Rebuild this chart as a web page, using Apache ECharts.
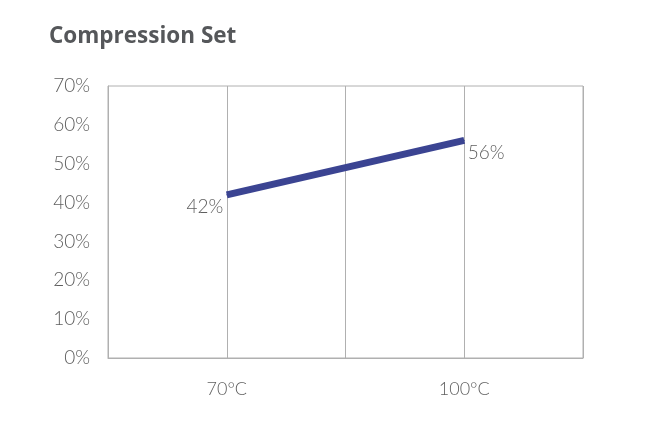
<!DOCTYPE html>
<html>
<head>
<meta charset="utf-8">
<script src="https://cdn.jsdelivr.net/npm/echarts@6/dist/echarts.min.js"></script>
<style>
  html, body { margin: 0; padding: 0; background: #fff; }
  #chart { width: 650px; height: 427px; }
</style>
</head>
<body>
<div id="chart"></div>
<script>
// x positions: empty slots keep the grid lines at the right places
var categories = ["", "70°C", "", "100°C", ""];
var compressionSet = [null, 42, null, 56, null];
var labelSide = [null, "left", null, "right", null];

var chart = echarts.init(document.getElementById("chart"));

var points = [];
for (var i = 0; i < compressionSet.length; i++) {
  if (compressionSet[i] == null) {
    points.push(null);
    continue;
  }
  points.push({
    value: compressionSet[i],
    label: { position: labelSide[i], offset: [0, 12], distance: 3 }
  });
}

var textFont = "Lato";

var option = {
  title: {
    text: "Compression Set",
    left: 44,
    top: 20,
    textStyle: {
      fontFamily: "Open Sans",
      fontWeight: "bold",
      fontSize: 22.5,
      color: "#55575a"
    }
  },
  grid: {
    show: true,
    left: 108,
    right: 67,
    top: 86,
    bottom: 69,
    borderColor: "#b0b0b0",
    borderWidth: 1
  },
  xAxis: {
    type: "category",
    data: categories,
    boundaryGap: false,
    axisLine: { lineStyle: { color: "#b0b0b0" } },
    axisTick: { show: false },
    splitLine: { show: true, lineStyle: { color: "#b0b0b0", width: 1 } },
    axisLabel: {
      margin: 22,
      fontFamily: textFont,
      fontWeight: 300,
      fontSize: 18,
      color: "#5f5f5f"
    }
  },
  yAxis: {
    type: "value",
    min: 0,
    max: 70,
    interval: 10,
    axisLine: { show: true, lineStyle: { color: "#b0b0b0" } },
    axisTick: { show: false },
    splitLine: { show: false },
    axisLabel: {
      margin: 18,
      fontFamily: textFont,
      fontWeight: 300,
      fontSize: 19,
      color: "#5f5f5f",
      formatter: "{value}%"
    }
  },
  series: [
    {
      type: "line",
      data: points,
      connectNulls: true,
      symbol: "circle",
      symbolSize: 1,
      itemStyle: { color: "#3b4492" },
      lineStyle: { color: "#3b4492", width: 7 },
      label: {
        show: true,
        formatter: "{c}%",
        fontFamily: textFont,
        fontWeight: 300,
        fontSize: 19,
        color: "#5f5f5f"
      }
    }
  ]
};

chart.setOption(option);
</script>
</body>
</html>
